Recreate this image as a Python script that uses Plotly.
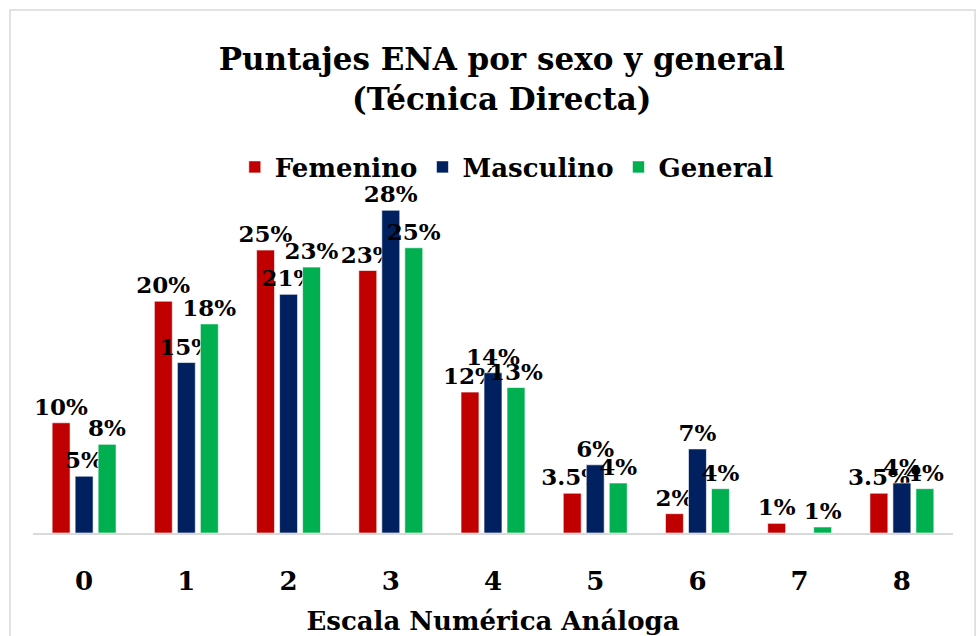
import plotly.graph_objects as go

categories = ["0", "1", "2", "3", "4", "5", "6", "7", "8"]
femenino = [9.7, 20.4, 24.9, 23.1, 12.4, 3.5, 1.7, 0.85, 3.5]
masculino = [5.0, 15.0, 21.0, 28.4, 14.1, 6.0, 7.4, 0, 4.4]
general = [7.8, 18.4, 23.4, 25.1, 12.8, 4.4, 3.9, 0.53, 3.9]
fem_labels = ["10%", "20%", "25%", "23%", "12%", "3.5%", "2%", "1%", "3.5%"]
mas_labels = ["5%", "15%", "21%", "28%", "14%", "6%", "7%", "", "4%"]
gen_labels = ["8%", "18%", "23%", "25%", "13%", "4%", "4%", "1%", "4%"]

FONT = "DejaVu Serif"
series = [
    ("Femenino", femenino, fem_labels, "#C00000"),
    ("Masculino", masculino, mas_labels, "#002060"),
    ("General", general, gen_labels, "#00B050"),
]

fig = go.Figure()
for name, vals, labels, color in series:
    fig.add_trace(go.Bar(
        name=name, x=categories, y=vals, text=labels,
        textposition="outside", cliponaxis=False,
        textfont=dict(family=FONT, size=23, color="black", weight="bold"),
        marker=dict(color=color, line=dict(color="rgba(255,255,255,0.6)", width=1)),
        constraintext="none",
    ))

fig.update_layout(
    width=980, height=636,
    paper_bgcolor="white", plot_bgcolor="white",
    margin=dict(l=33, r=27, t=158, b=103, autoexpand=False),
    barmode="group", bargap=0.325, bargroupgap=0.22,
    font=dict(family=FONT, color="black"),
    title=dict(
        text="Puntajes ENA por sexo y general<br>(Técnica Directa)",
        x=0.512, xanchor="center", y=1 - 70 / 636, yanchor="middle",
        font=dict(family=FONT, size=31, color="black", weight="bold"),
    ),
    legend=dict(
        orientation="h", x=0.515, xanchor="center", y=0.976, yanchor="middle",
        font=dict(family=FONT, size=26, color="black", weight="bold"),
        itemwidth=30, bgcolor="rgba(0,0,0,0)",
    ),
    xaxis=dict(
        showline=True, linecolor="#D9D9D9", linewidth=2, ticks="",
        showgrid=False, zeroline=False, automargin=False,
        tickfont=dict(family=FONT, size=26, color="black", weight="bold"),
        ticklabelstandoff=24,
        title=dict(text="Escala Numérica Análoga", standoff=18,
                   font=dict(family=FONT, size=26, color="black", weight="bold")),
    ),
    yaxis=dict(visible=False, range=[0, 33], showgrid=False, zeroline=False,
               automargin=False),
    shapes=[dict(type="rect", xref="paper", yref="paper",
                 x0=-0.025, x1=1.024, y0=-0.3, y1=1.395,
                 line=dict(color="#D9D9D9", width=1.5), fillcolor="rgba(0,0,0,0)",
                 layer="below")],
)

fig.write_html("out.html", config={"displayModeBar": False},
               post_script="document.body.style.margin='0';")
